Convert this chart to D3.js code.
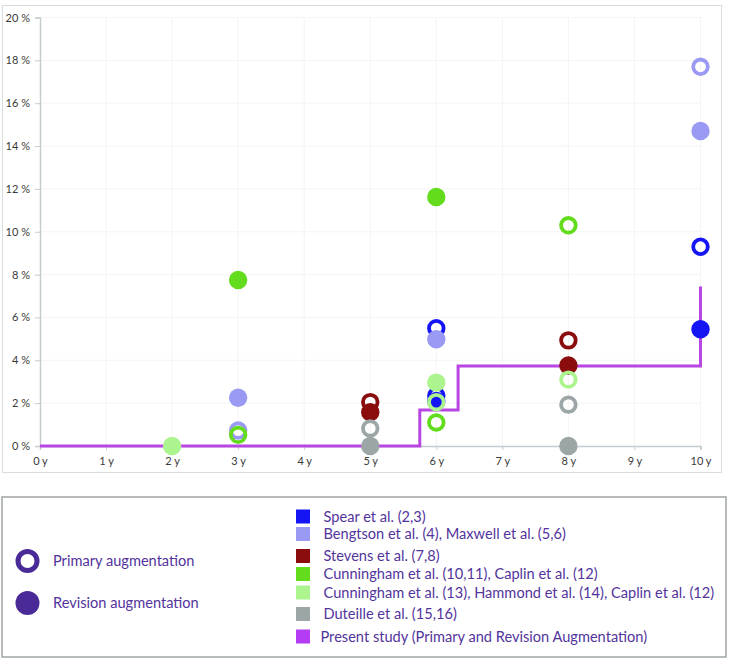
<!DOCTYPE html>
<html>
<head lang="en">
    <meta charset="UTF-8">
    <title>Augmentation rates</title>
    <script src="https://cdnjs.cloudflare.com/ajax/libs/d3/7.8.5/d3.min.js" charset="utf-8"></script>
</head>
<body style="margin:0; background:white">
<div id="chart"></div>
<script>

// data (x in years, y in %)
var yearTicks = [0, 1, 2, 3, 4, 5, 6, 7, 8, 9, 10];
var pctTicks = [0, 2, 4, 6, 8, 10, 12, 14, 16, 18, 20];

var seriesNames = ['Spear et al. (2,3)',
    'Bengtson et al. (4), Maxwell et al. (5,6)',
    'Stevens et al. (7,8)',
    'Cunningham et al. (10,11), Caplin et al. (12)',
    'Cunningham et al. (13), Hammond et al. (14), Caplin et al. (12)',
    'Duteille et al. (15,16)'];
var seriesColors = ['#1414f5', '#9a9af4', '#8a0c0c', '#62dc1c', '#acf48e', '#9ca6a6'];

var primary = [
    [[6, 5.5], [6, 2.35], [10, 9.3]],
    [[3, 0.72], [10, 17.7]],
    [[5, 2.05], [8, 4.93]],
    [[3, 0.52], [6, 1.1], [8, 10.3]],
    [[6, 2.05], [8, 3.1]],
    [[5, 0.82], [8, 1.93]]
];
var revision = [
    [[6, 2.1], [10, 5.45]],
    [[3, 2.25], [6, 4.98], [10, 14.7]],
    [[5, 1.58], [8, 3.76]],
    [[3, 7.75], [6, 11.62]],
    [[2, 0], [6, 2.96]],
    [[5, 0], [8, 0]]
];

var presentName = 'Present study (Primary and Revision Augmentation)';
var presentColor = '#b845e4';
var presentStep = [[0, 0], [5.75, 0], [5.75, 1.68], [6.33, 1.68], [6.33, 3.73], [10, 3.73], [10, 7.45]];

var width = 729, height = 664;
var svg = d3.select('#chart').append('svg')
    .attr('width', width)
    .attr('height', height)
    .style('font-family', 'Lato, sans-serif');

// chart frame
svg.append('rect').attr('x', 2.5).attr('y', 5.5).attr('width', 719).attr('height', 467)
    .attr('fill', 'white').attr('stroke', '#d8dcdc');

var x = d3.scaleLinear().domain([0, 10]).range([40, 700.5]);
var y = d3.scaleLinear().domain([0, 20]).range([446, 17.5]);

// faint grid
svg.append('g').selectAll('line').data(pctTicks.slice(1)).enter().append('line')
    .attr('x1', x(0)).attr('x2', x(10))
    .attr('y1', function(d){ return y(d); }).attr('y2', function(d){ return y(d); })
    .attr('stroke', '#f4f4f4');
svg.append('g').selectAll('line').data(yearTicks.slice(1)).enter().append('line')
    .attr('x1', function(d){ return x(d); }).attr('x2', function(d){ return x(d); })
    .attr('y1', y(0)).attr('y2', y(20))
    .attr('stroke', '#f4f4f4');

var yAxis = svg.append('g')
    .attr('transform', 'translate(' + x(0) + ',0)')
    .call(d3.axisLeft(y).tickValues(pctTicks).tickSize(5).tickPadding(5)
        .tickFormat(function(d){ return d + ' %'; }));
var xAxis = svg.append('g')
    .attr('transform', 'translate(0,' + y(0) + ')')
    .call(d3.axisBottom(x).tickValues(yearTicks).tickSize(4).tickPadding(7)
        .tickFormat(function(d){ return d + ' y'; }));

[xAxis, yAxis].forEach(function(a) {
    a.select('.domain').attr('stroke', '#c4ccd0').attr('stroke-width', 1.5);
    a.selectAll('.tick line').attr('stroke', '#c4ccd0');
    a.selectAll('text').attr('fill', '#3a3a3a').style('font-size', '11px')
        .style('font-family', 'Lato, sans-serif');
});

// present study step line
var line = d3.line().x(function(d){ return x(d[0]); }).y(function(d){ return y(d[1]); });
svg.append('path').datum(presentStep)
    .attr('d', line)
    .attr('fill', 'none')
    .attr('stroke', presentColor)
    .attr('stroke-width', 3);

// points, series by series
seriesNames.forEach(function(name, i) {
    var g = svg.append('g');
    g.selectAll('circle.p').data(primary[i]).enter().append('circle')
        .attr('class', 'p')
        .attr('cx', function(d){ return x(d[0]); })
        .attr('cy', function(d){ return y(d[1]); })
        .attr('r', 7.3)
        .attr('fill', 'none')
        .attr('stroke', seriesColors[i])
        .attr('stroke-width', 3.8);
    g.selectAll('circle.r').data(revision[i]).enter().append('circle')
        .attr('class', 'r')
        .attr('cx', function(d){ return x(d[0]); })
        .attr('cy', function(d){ return y(d[1]); })
        .attr('r', 9.2)
        .attr('fill', seriesColors[i]);
});

// legend
var legend = svg.append('g');
legend.append('rect').attr('x', 2).attr('y', 497).attr('width', 724).attr('height', 160)
    .attr('fill', 'white').attr('stroke', '#9ea4a4').attr('stroke-width', 1.5);

var legendPurple = '#4a2a96';
var textPurple = '#52349c';

legend.append('circle').attr('cx', 27.5).attr('cy', 561).attr('r', 9.5)
    .attr('fill', 'none').attr('stroke', legendPurple).attr('stroke-width', 5);
legend.append('text').attr('x', 53).attr('y', 561).attr('dy', '0.35em')
    .attr('fill', textPurple).style('font-size', '14.6px').text('Primary augmentation');
legend.append('circle').attr('cx', 27.5).attr('cy', 603).attr('r', 12)
    .attr('fill', legendPurple);
legend.append('text').attr('x', 53).attr('y', 603).attr('dy', '0.35em')
    .attr('fill', textPurple).style('font-size', '14.6px').text('Revision augmentation');

var rowY = [516.5, 534, 556, 574, 592.5, 614, 636.5];
var legendNames = seriesNames.concat([presentName]);
var legendColors = seriesColors.concat(['#b43cf2']);

legend.selectAll('rect.sw').data(legendNames).enter().append('rect')
    .attr('class', 'sw')
    .attr('x', 296)
    .attr('y', function(d, i){ return rowY[i] - 7; })
    .attr('width', 14)
    .attr('height', 14)
    .attr('fill', function(d, i){ return legendColors[i]; });
legend.selectAll('text.nm').data(legendNames).enter().append('text')
    .attr('class', 'nm')
    .attr('x', function(d, i){ return i == 6 ? 320.5 : 323.5; })
    .attr('y', function(d, i){ return rowY[i]; })
    .attr('dy', '0.35em')
    .attr('fill', textPurple)
    .style('font-size', '14.6px')
    .text(function(d){ return d; });

</script>
</body>
</html>
